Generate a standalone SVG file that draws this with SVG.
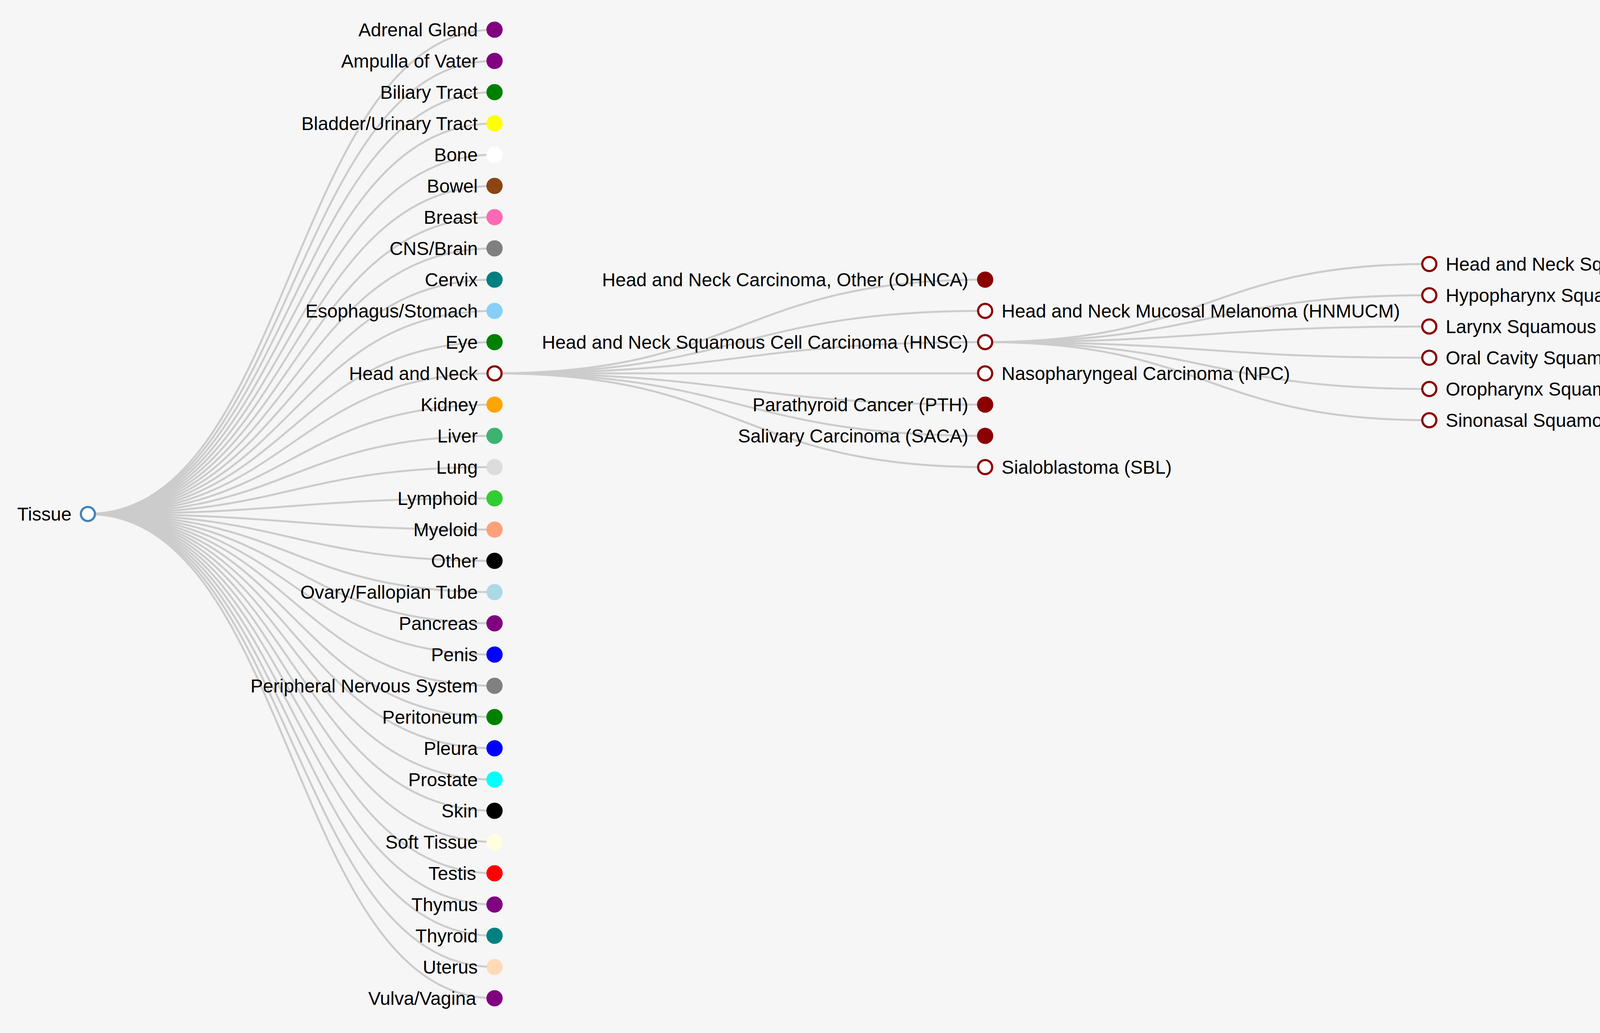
<svg xmlns="http://www.w3.org/2000/svg" width="5352" height="2645" viewBox="0 0 5352 2645">
<style>
.link{fill:none;stroke:#cccccc;stroke-width:5.1}
.node circle{stroke-width:5.6}
text{font-family:"Liberation Sans",Arial,Helvetica,sans-serif;font-size:47.8px;fill:#000}
.l{text-anchor:end}
.r{text-anchor:start}
.hollow{fill:#fff;stroke:#8b0000}
.leaf{fill:#8b0000;stroke:#8b0000}
</style>
<rect width="5352" height="2645" fill="#f6f6f6"/>
<g id="connectors">
<path class="link" d="M225,1316C745.5,1316 745.5,76 1266,76"/>
<path class="link" d="M225,1316C745.5,1316 745.5,156 1266,156"/>
<path class="link" d="M225,1316C745.5,1316 745.5,236 1266,236"/>
<path class="link" d="M225,1316C745.5,1316 745.5,316 1266,316"/>
<path class="link" d="M225,1316C745.5,1316 745.5,396 1266,396"/>
<path class="link" d="M225,1316C745.5,1316 745.5,476 1266,476"/>
<path class="link" d="M225,1316C745.5,1316 745.5,556 1266,556"/>
<path class="link" d="M225,1316C745.5,1316 745.5,636 1266,636"/>
<path class="link" d="M225,1316C745.5,1316 745.5,716 1266,716"/>
<path class="link" d="M225,1316C745.5,1316 745.5,796 1266,796"/>
<path class="link" d="M225,1316C745.5,1316 745.5,876 1266,876"/>
<path class="link" d="M225,1316C745.5,1316 745.5,956 1266,956"/>
<path class="link" d="M225,1316C745.5,1316 745.5,1036 1266,1036"/>
<path class="link" d="M225,1316C745.5,1316 745.5,1116 1266,1116"/>
<path class="link" d="M225,1316C745.5,1316 745.5,1196 1266,1196"/>
<path class="link" d="M225,1316C745.5,1316 745.5,1276 1266,1276"/>
<path class="link" d="M225,1316C745.5,1316 745.5,1356 1266,1356"/>
<path class="link" d="M225,1316C745.5,1316 745.5,1436 1266,1436"/>
<path class="link" d="M225,1316C745.5,1316 745.5,1516 1266,1516"/>
<path class="link" d="M225,1316C745.5,1316 745.5,1596 1266,1596"/>
<path class="link" d="M225,1316C745.5,1316 745.5,1676 1266,1676"/>
<path class="link" d="M225,1316C745.5,1316 745.5,1756 1266,1756"/>
<path class="link" d="M225,1316C745.5,1316 745.5,1836 1266,1836"/>
<path class="link" d="M225,1316C745.5,1316 745.5,1916 1266,1916"/>
<path class="link" d="M225,1316C745.5,1316 745.5,1996 1266,1996"/>
<path class="link" d="M225,1316C745.5,1316 745.5,2076 1266,2076"/>
<path class="link" d="M225,1316C745.5,1316 745.5,2156 1266,2156"/>
<path class="link" d="M225,1316C745.5,1316 745.5,2236 1266,2236"/>
<path class="link" d="M225,1316C745.5,1316 745.5,2316 1266,2316"/>
<path class="link" d="M225,1316C745.5,1316 745.5,2396 1266,2396"/>
<path class="link" d="M225,1316C745.5,1316 745.5,2476 1266,2476"/>
<path class="link" d="M225,1316C745.5,1316 745.5,2556 1266,2556"/>
<path class="link" d="M1266,956C1894,956 1894,716 2522,716"/>
<path class="link" d="M1266,956C1894,956 1894,796 2522,796"/>
<path class="link" d="M1266,956C1894,956 1894,876 2522,876"/>
<path class="link" d="M1266,956C1894,956 1894,956 2522,956"/>
<path class="link" d="M1266,956C1894,956 1894,1036 2522,1036"/>
<path class="link" d="M1266,956C1894,956 1894,1116 2522,1116"/>
<path class="link" d="M1266,956C1894,956 1894,1196 2522,1196"/>
<path class="link" d="M2522,876C3090.5,876 3090.5,676 3659,676"/>
<path class="link" d="M2522,876C3090.5,876 3090.5,756 3659,756"/>
<path class="link" d="M2522,876C3090.5,876 3090.5,836 3659,836"/>
<path class="link" d="M2522,876C3090.5,876 3090.5,916 3659,916"/>
<path class="link" d="M2522,876C3090.5,876 3090.5,996 3659,996"/>
<path class="link" d="M2522,876C3090.5,876 3090.5,1076 3659,1076"/>
</g>
<g id="n-tissue" class="node"><circle cx="225" cy="1316" r="18" fill="#fff" stroke="#4682b4"/><text class="l" x="183" y="1333">Tissue</text></g>
<g id="n-adrenal" class="node"><circle cx="1266" cy="76" r="18" fill="#800080" stroke="#800080"/><text class="l" x="1223" y="93">Adrenal Gland</text></g>
<g id="n-ampulla" class="node"><circle cx="1266" cy="156" r="18" fill="#800080" stroke="#800080"/><text class="l" x="1223" y="173">Ampulla of Vater</text></g>
<g id="n-biliary" class="node"><circle cx="1266" cy="236" r="18" fill="#008000" stroke="#008000"/><text class="l" x="1223" y="253">Biliary Tract</text></g>
<g id="n-bladder" class="node"><circle cx="1266" cy="316" r="18" fill="#ffff00" stroke="#ffff00"/><text class="l" x="1223" y="333">Bladder/Urinary Tract</text></g>
<g id="n-bone" class="node"><circle cx="1266" cy="396" r="18" fill="#ffffff" stroke="#ffffff"/><text class="l" x="1223" y="413">Bone</text></g>
<g id="n-bowel" class="node"><circle cx="1266" cy="476" r="18" fill="#8b4513" stroke="#8b4513"/><text class="l" x="1223" y="493">Bowel</text></g>
<g id="n-breast" class="node"><circle cx="1266" cy="556" r="18" fill="#ff69b4" stroke="#ff69b4"/><text class="l" x="1223" y="573">Breast</text></g>
<g id="n-cns" class="node"><circle cx="1266" cy="636" r="18" fill="#808080" stroke="#808080"/><text class="l" x="1223" y="653">CNS/Brain</text></g>
<g id="n-cervix" class="node"><circle cx="1266" cy="716" r="18" fill="#008080" stroke="#008080"/><text class="l" x="1223" y="733">Cervix</text></g>
<g id="n-esophagus" class="node"><circle cx="1266" cy="796" r="18" fill="#87cefa" stroke="#87cefa"/><text class="l" x="1223" y="813">Esophagus/Stomach</text></g>
<g id="n-eye" class="node"><circle cx="1266" cy="876" r="18" fill="#008000" stroke="#008000"/><text class="l" x="1223" y="893">Eye</text></g>
<g id="n-headneck" class="node"><circle cx="1266" cy="956" r="18" class="hollow"/><text class="l" x="1223" y="973">Head and Neck</text></g>
<g id="n-kidney" class="node"><circle cx="1266" cy="1036" r="18" fill="#ffa500" stroke="#ffa500"/><text class="l" x="1223" y="1053">Kidney</text></g>
<g id="n-liver" class="node"><circle cx="1266" cy="1116" r="18" fill="#3cb371" stroke="#3cb371"/><text class="l" x="1223" y="1133">Liver</text></g>
<g id="n-lung" class="node"><circle cx="1266" cy="1196" r="18" fill="#dcdcdc" stroke="#dcdcdc"/><text class="l" x="1223" y="1213">Lung</text></g>
<g id="n-lymphoid" class="node"><circle cx="1266" cy="1276" r="18" fill="#32cd32" stroke="#32cd32"/><text class="l" x="1223" y="1293">Lymphoid</text></g>
<g id="n-myeloid" class="node"><circle cx="1266" cy="1356" r="18" fill="#ffa07a" stroke="#ffa07a"/><text class="l" x="1223" y="1373">Myeloid</text></g>
<g id="n-other" class="node"><circle cx="1266" cy="1436" r="18" fill="#000000" stroke="#000000"/><text class="l" x="1223" y="1453">Other</text></g>
<g id="n-ovary" class="node"><circle cx="1266" cy="1516" r="18" fill="#add8e6" stroke="#add8e6"/><text class="l" x="1223" y="1533">Ovary/Fallopian Tube</text></g>
<g id="n-pancreas" class="node"><circle cx="1266" cy="1596" r="18" fill="#800080" stroke="#800080"/><text class="l" x="1223" y="1613">Pancreas</text></g>
<g id="n-penis" class="node"><circle cx="1266" cy="1676" r="18" fill="#0000ff" stroke="#0000ff"/><text class="l" x="1223" y="1693">Penis</text></g>
<g id="n-pns" class="node"><circle cx="1266" cy="1756" r="18" fill="#808080" stroke="#808080"/><text class="l" x="1223" y="1773">Peripheral Nervous System</text></g>
<g id="n-peritoneum" class="node"><circle cx="1266" cy="1836" r="18" fill="#008000" stroke="#008000"/><text class="l" x="1223" y="1853">Peritoneum</text></g>
<g id="n-pleura" class="node"><circle cx="1266" cy="1916" r="18" fill="#0000ff" stroke="#0000ff"/><text class="l" x="1223" y="1933">Pleura</text></g>
<g id="n-prostate" class="node"><circle cx="1266" cy="1996" r="18" fill="#00ffff" stroke="#00ffff"/><text class="l" x="1223" y="2013">Prostate</text></g>
<g id="n-skin" class="node"><circle cx="1266" cy="2076" r="18" fill="#000000" stroke="#000000"/><text class="l" x="1223" y="2093">Skin</text></g>
<g id="n-softtissue" class="node"><circle cx="1266" cy="2156" r="18" fill="#ffffe0" stroke="#ffffe0"/><text class="l" x="1223" y="2173">Soft Tissue</text></g>
<g id="n-testis" class="node"><circle cx="1266" cy="2236" r="18" fill="#ff0000" stroke="#ff0000"/><text class="l" x="1219" y="2253">Testis</text></g>
<g id="n-thymus" class="node"><circle cx="1266" cy="2316" r="18" fill="#800080" stroke="#800080"/><text class="l" x="1223" y="2333">Thymus</text></g>
<g id="n-thyroid" class="node"><circle cx="1266" cy="2396" r="18" fill="#008080" stroke="#008080"/><text class="l" x="1223" y="2413">Thyroid</text></g>
<g id="n-uterus" class="node"><circle cx="1266" cy="2476" r="18" fill="#ffdab9" stroke="#ffdab9"/><text class="l" x="1223" y="2493">Uterus</text></g>
<g id="n-vulva" class="node"><circle cx="1266" cy="2556" r="18" fill="#800080" stroke="#800080"/><text class="l" x="1219" y="2573">Vulva/Vagina</text></g>
<g id="n-ohnca" class="node"><circle cx="2522" cy="716" r="18" class="leaf"/><text class="l" x="2479" y="733">Head and Neck Carcinoma, Other (OHNCA)</text></g>
<g id="n-hnmucm" class="node"><circle cx="2522" cy="796" r="18" class="hollow"/><text class="r" x="2564" y="813">Head and Neck Mucosal Melanoma (HNMUCM)</text></g>
<g id="n-hnsc" class="node"><circle cx="2522" cy="876" r="18" class="hollow"/><text class="l" x="2479" y="893">Head and Neck Squamous Cell Carcinoma (HNSC)</text></g>
<g id="n-npc" class="node"><circle cx="2522" cy="956" r="18" class="hollow"/><text class="r" x="2564" y="973">Nasopharyngeal Carcinoma (NPC)</text></g>
<g id="n-pth" class="node"><circle cx="2522" cy="1036" r="18" class="leaf"/><text class="l" x="2479" y="1053">Parathyroid Cancer (PTH)</text></g>
<g id="n-saca" class="node"><circle cx="2522" cy="1116" r="18" class="leaf"/><text class="l" x="2479" y="1133">Salivary Carcinoma (SACA)</text></g>
<g id="n-sbl" class="node"><circle cx="2522" cy="1196" r="18" class="hollow"/><text class="r" x="2564" y="1213">Sialoblastoma (SBL)</text></g>
<g id="n-hnscup" class="node"><circle cx="3659" cy="676" r="18" class="hollow"/><text class="r" x="3701" y="693">Head and Neck Squamous Cell Carcinoma of Unknown Primary (HNSCUP)</text></g>
<g id="n-hphsc" class="node"><circle cx="3659" cy="756" r="18" class="hollow"/><text class="r" x="3701" y="773">Hypopharynx Squamous Cell Carcinoma (HPHSC)</text></g>
<g id="n-lxsc" class="node"><circle cx="3659" cy="836" r="18" class="hollow"/><text class="r" x="3701" y="853">Larynx Squamous Cell Carcinoma (LXSC)</text></g>
<g id="n-ocsc" class="node"><circle cx="3659" cy="916" r="18" class="hollow"/><text class="r" x="3701" y="933">Oral Cavity Squamous Cell Carcinoma (OCSC)</text></g>
<g id="n-ophsc" class="node"><circle cx="3659" cy="996" r="18" class="hollow"/><text class="r" x="3701" y="1013">Oropharynx Squamous Cell Carcinoma (OPHSC)</text></g>
<g id="n-snsc" class="node"><circle cx="3659" cy="1076" r="18" class="hollow"/><text class="r" x="3701" y="1093">Sinonasal Squamous Cell Carcinoma (SNSC)</text></g>
</svg>
